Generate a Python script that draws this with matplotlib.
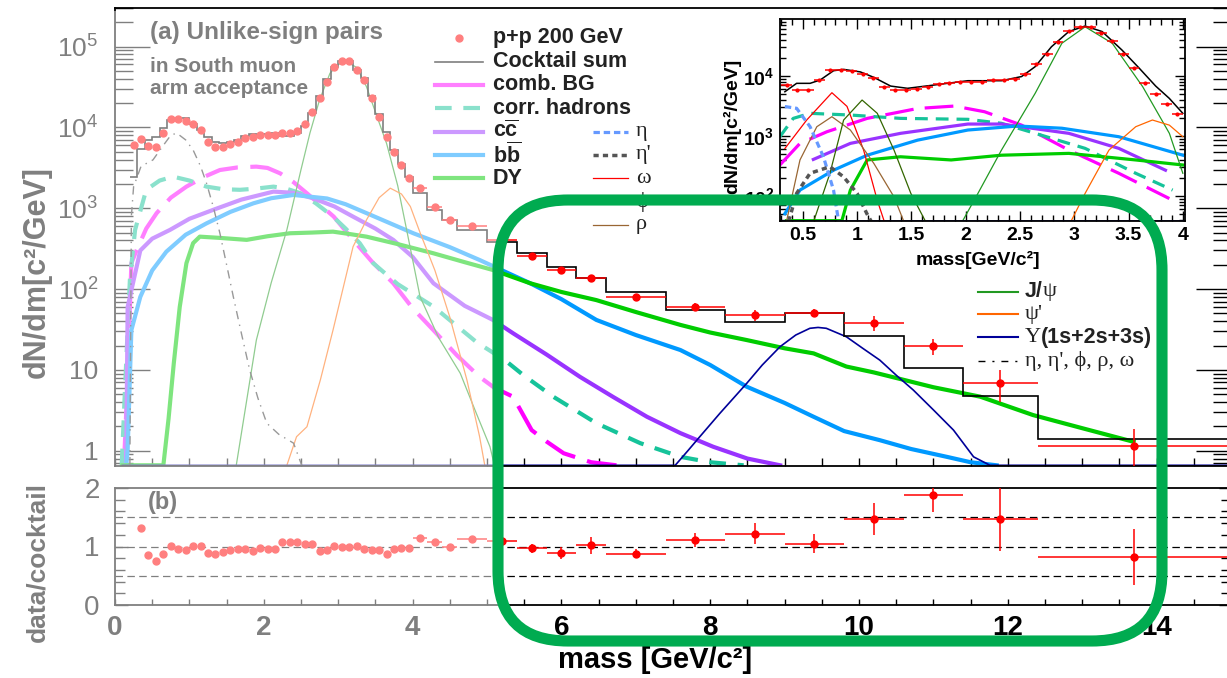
import numpy as np
import matplotlib
matplotlib.use('Agg')
from matplotlib import pyplot as plt
from matplotlib.lines import Line2D
from matplotlib.patches import Rectangle, FancyBboxPatch
from matplotlib.transforms import IdentityTransform
from matplotlib.ticker import LogLocator, MultipleLocator, FixedLocator, NullFormatter

plt.rcParams['font.family'] = ['Liberation Sans', 'DejaVu Sans']
plt.rcParams['mathtext.fontset'] = 'custom'
plt.rcParams['mathtext.rm'] = 'Liberation Sans'
plt.rcParams['mathtext.bf'] = 'Liberation Sans:bold'
plt.rcParams['mathtext.default'] = 'regular'

W, H = 1227, 678
SERIF = ['Liberation Serif', 'DejaVu Serif']

# ---- dimuon mass spectrum, p+p 200 GeV, south arm ----
# cocktail / data bins [GeV/c^2]
bin_edges = [0.2, 0.3, 0.4, 0.5, 0.6, 0.7, 0.8, 0.9, 1.0, 1.1, 1.2, 1.3, 1.4,
             1.5, 1.6, 1.7, 1.8, 1.9, 2.0, 2.1, 2.2, 2.3, 2.4, 2.5, 2.6, 2.7,
             2.8, 2.9, 3.0, 3.1, 3.2, 3.3, 3.4, 3.5, 3.6, 3.7, 3.8, 3.9, 4.0,
             4.2, 4.4, 4.6, 5.0, 5.4, 5.8, 6.2, 6.6, 7.4, 8.2, 9.0, 9.8, 10.6,
             11.4, 12.4, 15.0]
n_low = 38  # bins below 4 GeV/c^2 (no visible error bars)

data_vals = [6070, 7150, 5950, 5780, 8500, 12600, 12600, 12100, 11000, 9300,
             6670, 5780, 5780, 6190, 6670, 7350, 7700, 8070, 8070, 8070,
             8480, 8480, 9060, 10960, 15700, 22900, 36900, 56500, 66500, 66500,
             52000, 38700, 22900, 13600, 7700, 5020, 3430, 2350,
             1770, 1030, 716, 604, 405, 259, 172, 136, 80.5, 60.6, 47.8, 51,
             38.4, 19.9, 6.95, 1.14]
data_err_hi = [40, 30, 25, 25, 20, 18, 14, 14, 6, 6, 7, 6, 8, 4.5, 3.0, 0.7]

cocktail_vals = [2450, 5400, 7000, 7600, 9800, 12500, 13100, 12900, 10900, 9200,
                 7500, 6650, 6350, 6600, 7000, 7750, 8300, 8300, 8400, 8500,
                 7900, 7900, 8450, 10500, 15100, 24600, 39300, 56000, 66500, 66500,
                 51500, 40300, 24400, 14500, 8750, 5280, 3500, 2420,
                 1550, 960, 720, 540, 385, 277, 189, 136, 92.8, 55.1, 39.5, 51,
                 26.3, 10.5, 4.75, 1.40]

# data/cocktail, starting from the 0.3-0.4 bin
ratio_vals = [1.32, 0.85, 0.76, 0.87, 1.01, 0.96, 0.94, 1.01, 1.01, 0.89,
              0.87, 0.91, 0.94, 0.95, 0.95, 0.93, 0.97, 0.96, 0.95, 1.07,
              1.07, 1.07, 1.04, 1.04, 0.93, 0.94, 1.01, 1.00, 1.00, 1.01,
              0.96, 0.94, 0.94, 0.88, 0.95, 0.98, 0.97,
              1.14, 1.07, 0.99, 1.12, 1.09, 0.97, 0.89, 1.02, 0.88, 1.11,
              1.22, 1.05, 1.47, 1.88, 1.47, 0.82]
ratio_err_hi = [0.04, 0.04, 0.05, 0.05, 0.06, 0.08, 0.10, 0.14, 0.08, 0.12,
                0.18, 0.16, 0.27, 0.29, 0.55, 0.48]

# cocktail components (full mass range)
combbg_m = [0.12, 0.16, 0.22, 0.29, 0.42, 0.56, 0.75, 0.96, 1.2, 1.41, 1.65, 1.9,
            2.05, 2.22, 2.4, 2.58, 2.94, 3.2, 3.45, 3.74, 4.0, 4.28, 4.6, 4.9,
            5.1, 5.35, 5.6, 5.8, 6.03, 6.4, 6.74]
combbg_y = [0.66, 4.7, 209, 302, 560, 870, 1350, 1850, 2450, 2970, 3200, 3270,
            3150, 2700, 2100, 1530, 787, 406, 220, 118, 58, 31, 15, 8.2,
            6.0, 4.66, 1.8, 1.3, 0.93, 0.72, 0.66]

corrhad_m = [0.09, 0.13, 0.2, 0.27, 0.42, 0.6, 0.78, 1.0, 1.23, 1.45, 1.68, 1.9,
             2.13, 2.3, 2.49, 2.7, 2.93, 3.1, 3.29, 3.47, 3.8, 4.28, 4.86, 5.24,
             5.49, 5.89, 6.47, 7.06, 7.6, 8.0, 8.45]
corrhad_y = [0.66, 4.7, 130, 540, 1690, 2200, 2460, 2200, 1850, 1720, 1690, 1750,
             1850, 1750, 1535, 1150, 787, 560, 369, 209, 115, 60.7, 22, 13.2,
             8.6, 4.66, 2.19, 1.24, 0.84, 0.72, 0.66]

ccbar_m = [0.15, 0.17, 0.34, 0.5, 0.74, 1.0, 1.32, 1.7, 2.13, 2.4, 2.67, 2.95,
           3.2, 3.5, 3.74, 4.0, 4.28, 4.7, 5.08, 5.35, 5.8, 6.25, 6.7, 7.15,
           7.6, 8.04, 8.5, 8.94]
ccbar_y = [0.66, 60, 300, 420, 540, 740, 955, 1280, 1605, 1550, 1320, 1050,
           787, 560, 406, 250, 118, 62, 41.5, 28.4, 15.5, 8.2, 4.6, 2.63,
           1.65, 1.12, 0.8, 0.66]

bbbar_m = [0.15, 0.17, 0.22, 0.34, 0.5, 0.69, 0.95, 1.23, 1.55, 1.86, 2.1, 2.4,
           2.85, 3.1, 3.38, 3.7, 4.01, 4.5, 4.9, 5.58, 6.0, 6.47, 7.0, 7.6,
           8.0, 8.49, 9.0, 9.39, 9.8, 10.28, 10.7, 11.18, 11.5, 11.85]
bbbar_y = [0.66, 1.0, 31, 80, 170, 290, 470, 650, 900, 1150, 1330, 1460,
           1320, 1120, 870, 650, 490, 330, 229, 118, 75, 41.5, 27, 17.6,
           11.5, 6.2, 3.9, 2.63, 1.75, 1.35, 1.05, 0.84, 0.72, 0.66]

dy_m = [0.10, 0.65, 0.72, 0.79, 0.87, 0.96, 1.05, 1.14, 1.4, 1.77, 2.05, 2.35,
        2.65, 2.93, 3.15, 3.38, 3.8, 4.28, 4.7, 5.08, 5.58, 6.0, 6.47, 7.0,
        7.6, 8.0, 8.49, 9.0, 9.39, 9.83, 10.2, 10.51, 11.0, 11.63, 12.34, 13.0,
        13.69]
dy_y = [0.66, 0.66, 2.5, 12, 60, 209, 370, 445, 430, 406, 450, 490,
        500, 513, 480, 445, 360, 277, 215, 172, 118, 92, 73, 52,
        36, 29, 23.4, 18.5, 16, 11, 9.3, 7.9, 6.1, 4.66, 2.76, 1.9,
        1.29]

jpsi_m = [1.63, 1.9, 2.1, 2.31, 2.5, 2.62, 2.75, 2.89, 3.0, 3.11, 3.25, 3.38,
          3.5, 3.65, 3.8, 3.92, 4.1, 4.35, 4.64, 4.85, 5.04, 5.1]
jpsi_y = [0.66, 23.4, 120, 540, 3000, 8500, 22000, 46800, 60000, 65300, 55000,
          31900, 15500, 6340, 1900, 540, 80.5, 25, 9.1, 3.0, 1.12, 0.66]

psip_m = [2.31, 2.44, 2.58, 2.76, 2.93, 3.2, 3.38, 3.55, 3.7, 3.85, 3.97, 4.1,
          4.3, 4.5, 4.73, 4.9, 4.97]
psip_y = [0.66, 1.49, 1.98, 7.5, 31, 335, 716, 1350, 1770, 1500, 1050, 500,
          170, 45, 7.5, 1.5, 0.66]

ups_m = [0.1, 7.53, 7.7, 7.86, 8.13, 8.49, 8.7, 8.94, 9.15, 9.34, 9.45, 9.56,
         9.83, 10.05, 10.28, 10.5, 10.73, 11.0, 11.27, 11.54, 11.76, 15.0]
ups_y = [0.66, 0.66, 1.0, 1.49, 2.9, 6.8, 11.5, 19.4, 27, 32.7, 33.5, 32.7,
         25.7, 18.5, 13.2, 8.6, 5.63, 3.2, 1.8, 0.84, 0.66, 0.66]

lightmes_m = [0.2, 0.22, 0.25, 0.35, 0.51, 0.65, 0.75, 0.83, 0.95, 1.05, 1.15,
              1.23, 1.32, 1.41, 1.5, 1.59, 1.7, 1.81, 1.92, 2.04, 2.2, 2.4, 2.51]
lightmes_y = [0.66, 800, 1850, 3300, 3960, 6000, 8000, 8500, 7000, 5250, 3300,
              2040, 1050, 490, 200, 80.5, 28, 10, 4.5, 2.19, 1.6, 1.24, 0.66]

# ---- low-mass zoom (inset) ----
in_sum_m = [0.335, 0.443, 0.567, 0.66, 0.783, 0.876, 1.03, 1.154, 1.309, 1.464,
            1.71, 2.02, 2.33, 2.515, 2.64, 2.79, 2.95, 3.10, 3.257, 3.44, 3.6,
            3.75, 3.875, 4.0]
in_sum_y = [5470, 7550, 7550, 8580, 12250, 12900, 11700, 9500, 6800, 6240,
            7080, 8350, 8350, 9800, 14300, 30700, 55000, 68000, 55000, 27000,
            13400, 6800, 4250, 2390]
in_omega_m = [0.335, 0.536, 0.768, 0.907, 1.06, 1.186, 1.25]
in_omega_y = [620, 1850, 5270, 3120, 585, 85, 38]
in_rho_m = [0.35, 0.474, 0.629, 0.768, 0.938, 1.154, 1.34, 1.43]
in_rho_y = [38, 400, 1430, 2100, 1260, 351, 97, 38]
in_phi_m = [0.6, 0.75, 0.876, 1.046, 1.186, 1.34, 1.495, 1.63]
in_phi_y = [38, 240, 1850, 3980, 2390, 585, 111, 38]
in_eta_m = [0.335, 0.443, 0.567, 0.69, 0.783, 0.83]
in_eta_y = [3100, 2900, 1430, 452, 126, 38]
in_etap_m = [0.37, 0.443, 0.567, 0.75, 0.876, 1.0, 1.09, 1.13]
in_etap_y = [38, 111, 240, 309, 209, 111, 51, 38]
in_comb_m = [0.289, 0.474, 0.722, 1.093, 1.557, 1.896, 2.174, 2.515, 2.95, 3.41, 3.876]
in_comb_y = [330, 755, 1180, 1970, 2880, 3160, 2540, 1520, 585, 240, 91]
in_corr_m = [0.289, 0.412, 0.567, 0.938, 1.4, 2.02, 2.33, 2.64, 3.1, 3.566, 3.906]
in_corr_y = [975, 1970, 2390, 2240, 1970, 1900, 1630, 1110, 624, 240, 126]
in_cc_m = [0.597, 0.938, 1.4, 2.02, 2.33, 2.95, 3.41, 3.84]
in_cc_y = [408, 755, 1110, 1585, 1585, 1110, 624, 270]
in_bb_m = [0.335, 0.474, 0.783, 1.093, 1.557, 2.02, 2.48, 2.886, 3.41, 4.0]
in_bb_y = [51, 126, 270, 480, 855, 1260, 1470, 1350, 975, 480]
in_dy_m = [0.35, 0.75, 0.86, 0.938, 1.093, 1.4, 1.866, 2.33, 2.95, 3.566, 4.0]
in_dy_y = [39, 39, 39, 126, 400, 452, 400, 480, 515, 400, 330]
in_jpsi_m = [1.97, 2.113, 2.33, 2.64, 2.886, 3.1, 3.35, 3.63, 3.876, 4.0]
in_jpsi_y = [38, 111, 585, 5150, 35100, 66000, 35100, 6650, 1110, 240]
in_psip_m = [2.97, 3.1, 3.32, 3.566, 3.72, 3.876, 4.0]
in_psip_y = [38, 111, 585, 1430, 1850, 1520, 975]
in_ups_m = [0.29, 4.02]
in_ups_y = [39, 39]

# colours
RED = '#ff0000'
MAGENTA = '#ff00ff'
TEAL = '#16c39a'
PURPLE = '#9933ff'
BLUE = '#0099ff'
GREEN = '#00cc00'
JPSI = '#229922'
PSIP = '#ff6600'
UPS = '#000099'
ETA = '#6699ff'
ETAP = '#555555'
RHO = '#996633'
PHI = '#336600'


def fbox(x0, y0, x1, y1):
    """pixel box (top-left origin) -> figure fraction rect"""
    return [x0 / W, 1 - y1 / H, (x1 - x0) / W, (y1 - y0) / H]


def fpt(x, y):
    return x / W, 1 - y / H


def draw_main(ax, centres, half_w):
    ax.set_yscale('log')
    ax.set_xlim(0, 15)
    ax.set_ylim(0.647, 3.0e5)

    ax.plot(combbg_m, combbg_y, color=MAGENTA, lw=3, dashes=(8, 3), zorder=2)
    ax.plot(corrhad_m, corrhad_y, color=TEAL, lw=3, dashes=(4, 2.8), zorder=2)
    ax.plot(ccbar_m, ccbar_y, color=PURPLE, lw=3, zorder=2)
    ax.plot(bbbar_m, bbbar_y, color=BLUE, lw=3, zorder=2)
    ax.plot(dy_m, dy_y, color=GREEN, lw=3, zorder=2)
    ax.plot(jpsi_m, jpsi_y, color=JPSI, lw=0.9, zorder=2)
    ax.plot(psip_m, psip_y, color=PSIP, lw=0.9, zorder=2)
    ax.plot(ups_m, ups_y, color=UPS, lw=1.2, zorder=2)
    ax.plot(lightmes_m, lightmes_y, color='#333333', lw=1,
            linestyle=(0, (6, 4, 1, 4)), zorder=2)

    ax.stairs(cocktail_vals, bin_edges, color='black', lw=1.2, baseline=None, zorder=3)

    ax.plot(centres[:n_low], data_vals[:n_low], 'o', color=RED, ms=5, zorder=4)
    ax.errorbar(centres[n_low:], data_vals[n_low:], xerr=half_w[n_low:],
                yerr=data_err_hi, fmt='o', color=RED, ms=5, elinewidth=1.1,
                capsize=0, zorder=4)

    ax.set_xticks(np.arange(0, 15.01, 0.5))
    ax.set_xticklabels([])
    ax.set_yticks([1, 10, 100, 1e3, 1e4, 1e5])
    ax.set_yticklabels(['1', '10', '$10^{2}$', '$10^{3}$', '$10^{4}$', '$10^{5}$'])
    ax.yaxis.set_minor_locator(LogLocator(base=10, subs=np.arange(2, 10), numticks=20))
    ax.yaxis.set_minor_formatter(NullFormatter())
    ax.tick_params(axis='y', which='major', direction='in', length=25, width=1,
                   left=True, right=True, labelsize=19, pad=12)
    ax.tick_params(axis='y', which='minor', direction='in', length=13, width=1,
                   left=True, right=True)
    ax.tick_params(axis='x', which='both', direction='in', length=6, width=1,
                   bottom=True, top=False)
    for s in ax.spines.values():
        s.set_linewidth(1.3)


def draw_ratio(ax, centres, half_w):
    ax.set_xlim(0, 15)
    ax.set_ylim(0, 2)
    for lev in [0.5, 1.0, 1.5]:
        ax.axhline(lev, color='black', lw=0.9, linestyle=(0, (6, 3.5)), zorder=1)
    c = centres[1:]
    hw = half_w[1:]
    nl = n_low - 1
    ax.plot(c[:nl], ratio_vals[:nl], 'o', color=RED, ms=5, zorder=3)
    ax.errorbar(c[nl:], ratio_vals[nl:], xerr=hw[nl:], yerr=ratio_err_hi,
                fmt='o', color=RED, ms=5, elinewidth=1.1, capsize=0, zorder=3)

    ticks = np.arange(0, 15.01, 0.5)
    ax.set_xticks(ticks)
    ax.set_xticklabels(['%d' % t if (t % 2 == 0) else '' for t in ticks])
    for lab in ax.get_xticklabels():
        lab.set_fontweight('bold')
    ax.set_yticks([0, 1, 2])
    ax.set_yticklabels(['0', '1', '2'])
    ax.yaxis.set_minor_locator(MultipleLocator(0.2))
    ax.tick_params(axis='x', which='both', direction='in', length=4.5, width=1,
                   labelsize=20, pad=7)
    ax.tick_params(axis='y', which='major', direction='in', length=9, width=1,
                   left=True, right=True, labelsize=20, pad=11)
    ax.tick_params(axis='y', which='minor', direction='in', length=7, width=1,
                   left=True, right=True)
    for s in ax.spines.values():
        s.set_linewidth(1.3)


def draw_inset(ax, centres, half_w):
    ax.set_yscale('log')
    ax.set_xlim(0.29, 4.02)
    ax.set_ylim(38.5, 8.9e4)

    ax.plot(in_comb_m, in_comb_y, color=MAGENTA, lw=2.3, dashes=(9, 3.5))
    ax.plot(in_corr_m, in_corr_y, color=TEAL, lw=2.3, dashes=(4, 2.5))
    ax.plot(in_cc_m, in_cc_y, color=PURPLE, lw=2.3)
    ax.plot(in_bb_m, in_bb_y, color=BLUE, lw=2.3)
    ax.plot(in_dy_m, in_dy_y, color=GREEN, lw=2.3)
    ax.plot(in_jpsi_m, in_jpsi_y, color=JPSI, lw=0.9)
    ax.plot(in_psip_m, in_psip_y, color=PSIP, lw=0.9)
    ax.plot(in_ups_m, in_ups_y, color=UPS, lw=1.2)
    ax.plot(in_omega_m, in_omega_y, color=RED, lw=0.9)
    ax.plot(in_rho_m, in_rho_y, color=RHO, lw=0.9)
    ax.plot(in_phi_m, in_phi_y, color=PHI, lw=0.9)
    ax.plot(in_eta_m, in_eta_y, color=ETA, lw=2.3, dashes=(2, 1.2))
    ax.plot(in_etap_m, in_etap_y, color=ETAP, lw=2.5, dashes=(1.5, 1.2))
    ax.plot(in_sum_m, in_sum_y, color='black', lw=1.1)

    ax.errorbar(centres[1:n_low], data_vals[1:n_low], xerr=half_w[1:n_low],
                fmt='o', color=RED, ms=2, elinewidth=1.1, capsize=0)

    xt = [0.5, 1, 1.5, 2, 2.5, 3, 3.5, 4]
    ax.xaxis.set_major_locator(FixedLocator(xt))
    ax.set_xticklabels(['0.5', '1', '1.5', '2', '2.5', '3', '3.5', '4'])
    ax.xaxis.set_minor_locator(MultipleLocator(0.1))
    ax.set_yticks([100, 1e3, 1e4])
    ax.set_yticklabels(['$\\mathbf{10^{2}}$', '$\\mathbf{10^{3}}$', '$\\mathbf{10^{4}}$'])
    ax.yaxis.set_minor_locator(LogLocator(base=10, subs=np.arange(2, 10), numticks=20))
    ax.yaxis.set_minor_formatter(NullFormatter())
    ax.tick_params(which='major', direction='in', length=7, width=1, top=True,
                   right=True, labelsize=14, pad=4)
    ax.tick_params(which='minor', direction='in', length=4, width=1, top=True,
                   right=True)
    for lab in ax.get_xticklabels():
        lab.set_fontweight('bold')
    for s in ax.spines.values():
        s.set_linewidth(1.3)


def legend_line(fig, x0, x1, y, z=1, **line_kw):
    fig.add_artist(Line2D([x0 / W, x1 / W], [1 - y / H, 1 - y / H],
                          transform=fig.transFigure, zorder=z, **line_kw))


def legend_text(fig, x, y, text, serif=False, bold=True, size=15.5):
    fig.text(x / W, 1 - y / H, text, ha='left', va='center', zorder=3,
             fontsize=size, fontweight='bold' if bold else 'normal',
             family=SERIF if serif else None, color='#222222')


def main():
    fig = plt.figure(figsize=(W / 100, H / 100), dpi=100)

    edges = np.array(bin_edges)
    centres = 0.5 * (edges[:-1] + edges[1:])
    half_w = 0.5 * (edges[1:] - edges[:-1])

    ax_top = fig.add_axes(fbox(115, 8, 115 + 15 * 74.4, 466))
    ax_bot = fig.add_axes(fbox(115, 488, 115 + 15 * 74.4, 605))
    ax_in = fig.add_axes(fbox(780, 19, 1185, 221), zorder=3)

    draw_main(ax_top, centres, half_w)
    draw_ratio(ax_bot, centres, half_w)
    draw_inset(ax_in, centres, half_w)

    # panel texts
    fig.text(*fpt(150, 33), '(a) Unlike-sign pairs', fontsize=17.5,
             fontweight='bold', va='center', zorder=1)
    fig.text(*fpt(150, 67), 'in South muon', fontsize=15, fontweight='bold',
             va='center', zorder=1)
    fig.text(*fpt(150, 88), 'arm acceptance', fontsize=15, fontweight='bold',
             va='center', zorder=1)
    fig.text(*fpt(148, 503), '(b)', fontsize=17, fontweight='bold',
             va='center', zorder=1)
    fig.text(*fpt(37, 272), 'dN/dm[c²/GeV]', rotation=90, fontsize=22,
             fontweight='bold', ha='center', va='center', zorder=1)
    fig.text(*fpt(37, 562), 'data/cocktail', rotation=90, fontsize=19,
             fontweight='bold', ha='center', va='center', zorder=1)
    fig.text(*fpt(655, 660), 'mass [GeV/c²]', fontsize=21, fontweight='bold',
             ha='center', va='center', zorder=3)
    fig.text(*fpt(978, 260), 'mass[GeV/c²]', fontsize=14, fontweight='bold',
             ha='center', va='center', zorder=3)
    fig.text(*fpt(732, 126), 'dN/dm[c²/GeV]', rotation=90, fontsize=14,
             fontweight='bold', ha='center', va='center', zorder=3)

    # legend, first column
    fig.add_artist(Line2D([459 / W], [1 - 38 / H], marker='o', ms=5, color=RED,
                          ls='none', transform=fig.transFigure, zorder=1))
    legend_text(fig, 493, 38, 'p+p 200 GeV')
    col1 = [(61.7, 'Cocktail sum', dict(color='black', lw=1.2)),
            (85, 'comb. BG', dict(color=MAGENTA, lw=3)),
            (108.3, 'corr. hadrons', dict(color=TEAL, lw=3, dashes=(4, 2.8))),
            (131.7, r'$\mathbf{c\overline{c}}$', dict(color=PURPLE, lw=3)),
            (155, r'$\mathbf{b\overline{b}}$', dict(color=BLUE, lw=3)),
            (178.3, 'DY', dict(color=GREEN, lw=3))]
    for y, label, kw in col1:
        legend_line(fig, 435, 483, y, **kw)
        legend_text(fig, 493, y, label)

    # legend, second column
    col2 = [(131.7, 'η', dict(color=ETA, lw=2.3, dashes=(2, 1.2))),
            (155, "η'", dict(color=ETAP, lw=2.5, dashes=(1.5, 1.2))),
            (178.3, 'ω', dict(color=RED, lw=0.9)),
            (201.7, 'ϕ', dict(color=PHI, lw=0.9)),
            (225, 'ρ', dict(color=RHO, lw=0.9))]
    for y, label, kw in col2:
        legend_line(fig, 593, 628, y, **kw)
        legend_text(fig, 636, y, label, serif=True, bold=False, size=16)

    # legend for the high-mass components
    legend_line(fig, 978, 1018, 291.7, color=JPSI, lw=1.5)
    legend_text(fig, 1025, 291.7, 'J/')
    legend_text(fig, 1043, 291.7, 'ψ', serif=True, bold=False, size=16)
    legend_line(fig, 978, 1018, 314, color=PSIP, lw=1.5)
    legend_text(fig, 1025, 314, "ψ'", serif=True, bold=False, size=16)
    legend_line(fig, 978, 1018, 337.3, color=UPS, lw=1.5)
    legend_text(fig, 1025, 337.3, 'Υ', serif=True, bold=False, size=16)
    legend_text(fig, 1041, 337.3, '(1s+2s+3s)')
    legend_line(fig, 978, 1018, 360.7, color='black', lw=1,
                linestyle=(0, (5, 5, 1.5, 5)))
    legend_text(fig, 1025, 360.7, "η, η', ϕ, ρ, ω", serif=True, bold=False, size=16)

    # wash out everything below 5 GeV/c^2
    for x0, y0, x1, y1 in [(0, 11, 490, 678), (490, 200, 498, 678)]:
        fig.add_artist(Rectangle((x0 / W, 1 - y1 / H), (x1 - x0) / W, (y1 - y0) / H,
                                 transform=fig.transFigure, facecolor='white',
                                 edgecolor='none', alpha=0.5, zorder=2))

    # highlight box around the high-mass region
    box = FancyBboxPatch((498, H - 641), 1162 - 498, 641 - 200,
                         boxstyle='round,pad=0,rounding_size=70',
                         transform=IdentityTransform(), fill=False,
                         edgecolor='#00ab50', linewidth=8, zorder=10)
    fig.add_artist(box)

    fig.savefig('out.png', dpi=100)
    plt.close(fig)


if __name__ == '__main__':
    main()
